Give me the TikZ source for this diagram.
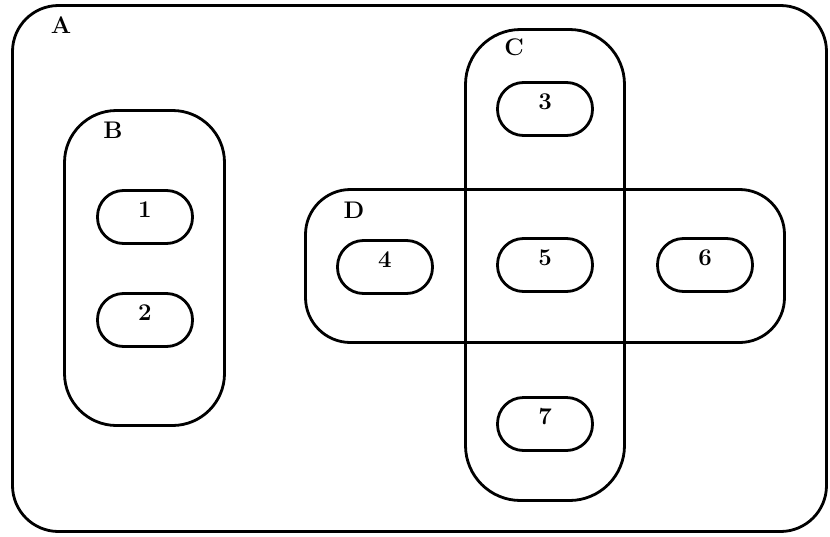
\documentclass[tikz,border=0pt]{standalone}
\usepackage{fontspec}
\setmainfont{Latin Modern Roman}
\usetikzlibrary{shapes.misc}
\begin{document}
\begin{tikzpicture}[x=1pt,y=-1pt,
  region/.style={draw,line width=2.8pt,rectangle,inner sep=0pt,outer sep=0pt},
  item/.style={draw,line width=2.8pt,rectangle,rounded corners=26pt,minimum width=95pt,minimum height=53pt,inner sep=0pt,font=\fontsize{24}{28}\selectfont\bfseries,text height=15.5pt,text depth=14pt},
  lab/.style={inner sep=0pt,font=\fontsize{24}{28}\selectfont\bfseries}]
\useasboundingbox (0,0) rectangle (830,536);
\node[region,minimum width=814pt,minimum height=526pt,rounded corners=46pt] (A) at (419.5,268.5) {};
\node[region,minimum width=160pt,minimum height=315pt,rounded corners=52pt] (B) at (144.5,268) {};
\node[region,minimum width=159pt,minimum height=471pt,rounded corners=55pt] (C) at (545,265) {};
\node[region,minimum width=479pt,minimum height=153pt,rounded corners=45pt] (D) at (545,266) {};
\node[lab] (lA) at (61,25) {A};
\node[lab] (lB) at (113,130) {B};
\node[lab] (lC) at (514,47) {C};
\node[lab] (lD) at (354,210) {D};
\node[item] (n1) at (145,217) {1};
\node[item] (n2) at (145,320) {2};
\node[item] (n3) at (545,109) {3};
\node[item] (n4) at (385,267) {4};
\node[item] (n5) at (545,265) {5};
\node[item] (n6) at (705,265) {6};
\node[item] (n7) at (545,424) {7};
\end{tikzpicture}
\end{document}
